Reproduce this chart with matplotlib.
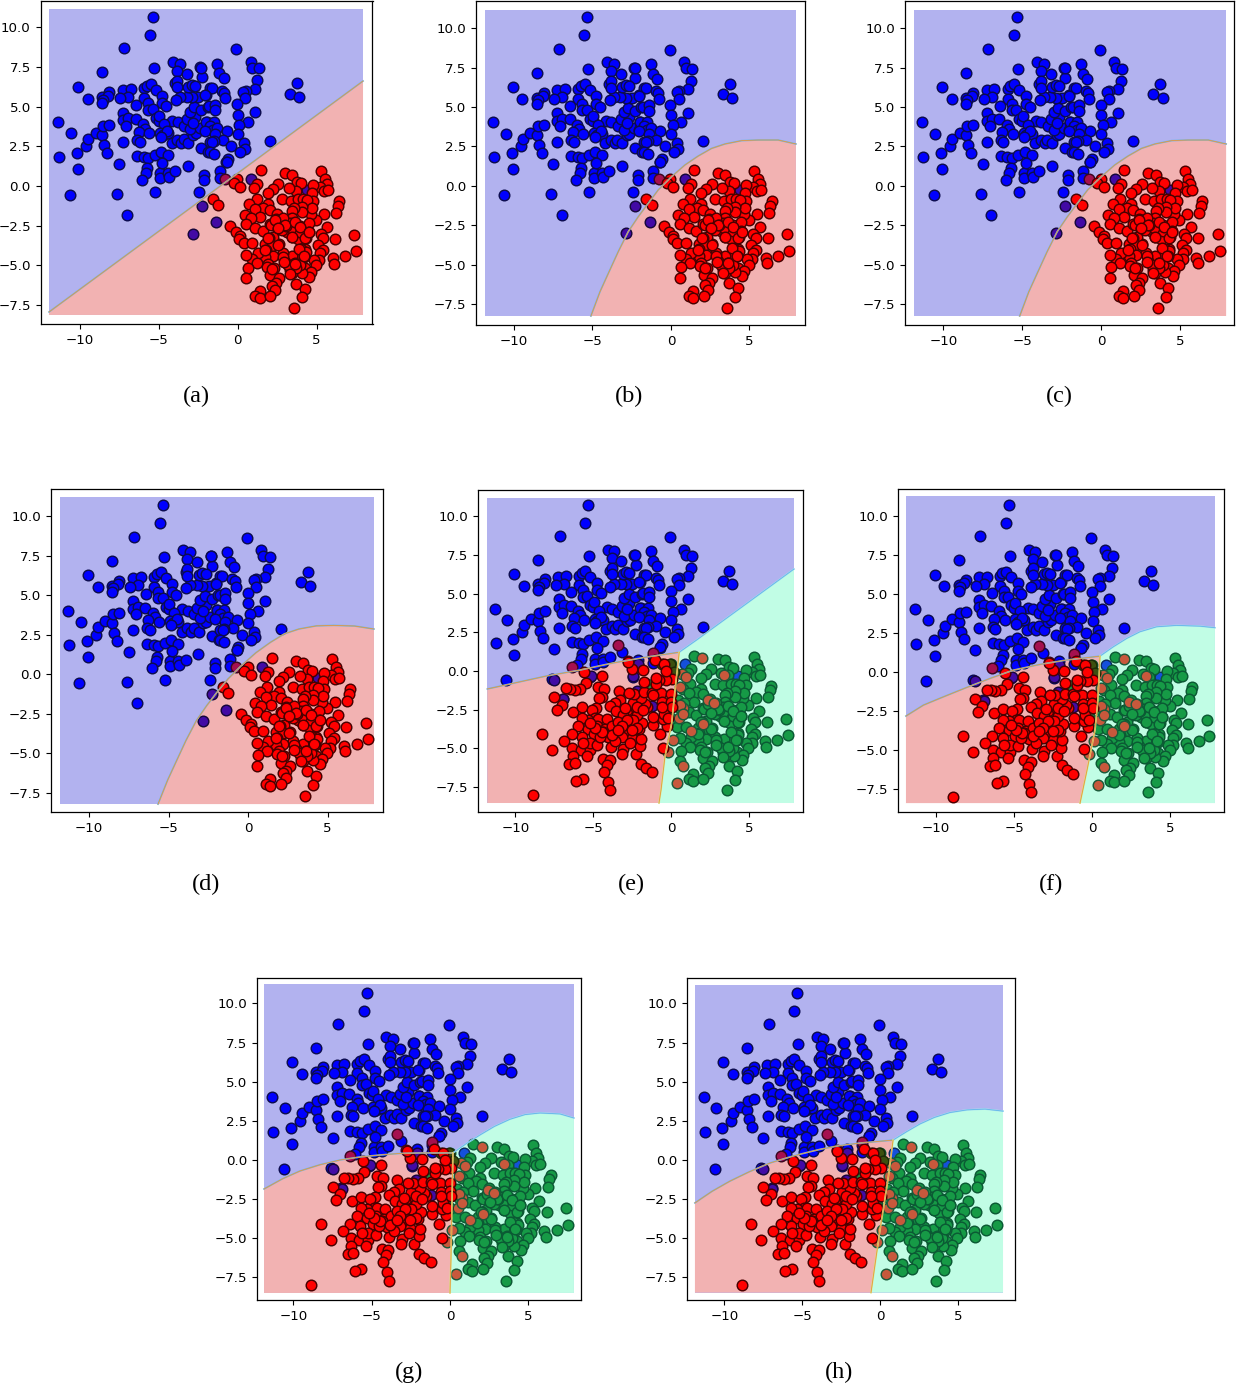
import matplotlib
matplotlib.use("Agg")
import matplotlib.pyplot as plt
import numpy as np

W, H = 1236, 1386

# Scatter clouds, shared by the panels
blue_pts = [
    (-5.33, 10.68), (-5.52, 9.53), (-7.16, 8.69), (-5.26, 7.42), (-8.55, 7.17), (-4.06, 7.84), (-3.64, 7.72),
    (-3.81, 7.26), (-3.2, 7.07), (-2.35, 7.49), (-2.27, 6.86), (-10.07, 6.25), (-8.11, 5.91), (-8.55, 5.6),
    (-8.18, 5.7), (-8.49, 5.43), (-8.55, 5.22), (-9.46, 5.49), (-7.25, 6.08), (-6.76, 6.12), (-6.91, 5.64),
    (-7.42, 5.53), (-5.92, 6.16), (-5.75, 6.33), (-5.5, 6.44), (-5.18, 6.06), (-5.92, 5.53), (-5.64, 5.22),
    (-4.76, 5.68), (-4.76, 5.22), (-4.53, 5.03), (-6.4, 5.09), (-5.64, 4.8), (-5.37, 4.84), (-7.23, 4.63),
    (-7.23, 4.14), (-6.91, 4.27), (-6.45, 4.21), (-5.18, 4.27), (-4.99, 4.12), (-4.95, 4.42), (-4.12, 4.12),
    (-3.79, 4.02), (-4.63, 3.89), (-5.96, 3.89), (-5.85, 3.62), (-6.26, 3.39), (-5.58, 3.32), (-4.91, 3.37),
    (-4.74, 3.22), (-4.38, 3.32), (-4.48, 3.49), (-3.39, 3.81), (-3.18, 4.21), (-2.67, 4.37), (-3.01, 4.69),
    (-2.73, 4.96), (-2.29, 4.77), (-1.89, 5.0), (-2.01, 5.74), (-2.48, 5.59), (-2.88, 5.59), (-3.22, 5.64),
    (-3.64, 5.64), (-3.89, 5.43), (-3.93, 6.48), (-3.81, 6.65), (-3.81, 6.23), (-3.11, 6.27), (-2.88, 6.37),
    (-2.67, 6.31), (-1.74, 6.2), (-11.34, 4.02), (-10.52, 3.32), (-11.28, 1.81), (-10.14, 2.06), (-9.57, 2.5),
    (-9.44, 2.97), (-8.98, 3.37), (-8.55, 3.22), (-8.49, 3.77), (-8.11, 3.87), (-7.04, 3.77), (-8.43, 2.59),
    (-8.24, 2.1), (-7.23, 2.8), (-6.34, 2.9), (-6.19, 2.78), (-6.36, 1.87), (-5.94, 1.81), (-5.64, 1.75),
    (-5.24, 1.98), (-4.82, 2.17), (-4.4, 1.93), (-4.86, 3.11), (-4.17, 2.69), (-3.81, 2.9), (-3.58, 2.69),
    (-3.41, 2.94), (-3.11, 2.69), (-2.8, 3.22), (-2.65, 3.32), (-3.01, 3.57), (-2.37, 3.64), (-2.01, 3.53),
    (-1.95, 4.06), (-2.8, 4.0), (-2.29, 2.38), (-1.85, 2.17), (-1.8, 3.79), (-1.74, 2.8),
    (-0.07, 8.62), (-1.29, 7.72), (0.82, 7.84), (0.94, 7.47), (1.36, 7.42), (-2.31, 7.47), (-1.15, 7.11),
    (-0.87, 6.79), (1.26, 6.67), (1.09, 6.14), (0.52, 6.01), (0.37, 5.95), (0.5, 5.53), (-1.61, 6.2),
    (-0.98, 6.01), (-0.83, 5.89), (-0.77, 5.53), (-2.03, 5.72), (-0.03, 5.15), (-1.78, 5.03), (-1.42, 5.11),
    (-1.42, 4.77), (0.03, 4.5), (1.09, 4.65), (0.65, 4.02), (0.1, 3.83), (-1.97, 4.06), (-1.5, 4.04),
    (-1.74, 3.79), (-1.55, 3.55), (-1.27, 3.64), (-2.05, 3.49), (-1.42, 3.28), (-0.68, 3.45), (0.03, 3.26),
    (-0.94, 2.9), (-1.48, 2.84), (-1.59, 2.78), (-0.39, 2.5), (0.39, 2.69), (0.46, 2.36), (0.18, 2.17),
    (-1.74, 2.17), (-1.48, 2.04), (-0.6, 1.72), (-0.7, 1.51), (2.06, 2.82), (3.75, 6.48), (3.33, 5.83),
    (3.92, 5.59), (-10.07, 1.05), (-7.5, 1.39), (-5.71, 1.11), (-5.81, 0.8), (-6.04, 0.36), (-4.88, 0.8),
    (-4.88, 0.48), (-4.4, 0.8), (-4.34, 0.59), (-3.93, 0.92), (-3.13, 1.24), (-2.1, 0.69), (-2.1, 0.36),
    (-1.13, 0.95), (-1.13, 0.53), (-0.69, 1.53), (-5.2, -0.36), (-2.42, -0.36), (-10.62, -0.59), (-7.63, -0.53),
    (-6.97, -1.81), (-4.76, 1.47),
]

right_pts = [
    (1.49, 0.99), (3.01, 0.8), (3.47, 0.7), (5.31, 0.93), (5.52, 0.44), (5.65, 0.13), (5.22, -0.06),
    (5.48, -0.31), (5.75, -0.23), (4.8, 0.06), (4.72, -0.46), (4.8, -0.93), (3.75, 0.27), (4.0, 0.21),
    (3.68, -0.29), (3.24, -0.1), (2.59, 0.13), (2.23, -0.21), (1.93, -0.46), (1.26, 0.13), (1.07, -0.1),
    (-0.03, 0.44), (-0.24, 0.17), (0.16, -0.06), (-1.57, -0.84), (-1.23, -1.18), (1.2, -0.84), (0.75, -1.16),
    (2.8, -0.84), (3.37, -0.93), (3.83, -0.84), (4.17, -0.84), (4.38, -0.88), (6.43, -0.95), (6.34, -1.24),
    (6.24, -1.7), (5.46, -1.77), (4.97, -2.17), (4.66, -1.77), (4.72, -1.41), (4.11, -1.3), (4.11, -1.66),
    (3.6, -1.41), (3.47, -1.56), (3.45, -2.0), (1.93, -1.14), (1.64, -1.37), (1.13, -1.45), (2.06, -1.51),
    (1.45, -1.98), (0.44, -1.85), (0.84, -2.04), (0.56, -2.42), (1.13, -2.67), (-0.45, -2.54), (-0.11, -2.92),
    (0.16, -3.15), (0.12, -3.36), (0.39, -3.62), (0.94, -3.62), (1.62, -2.86), (2.06, -2.42), (2.48, -1.79),
    (2.42, -2.08), (2.69, -2.14), (2.14, -2.46), (2.55, -2.73), (3.09, -2.35), (2.95, -2.25), (3.33, -2.35),
    (3.68, -2.42), (3.96, -2.5), (4.49, -2.31), (4.49, -2.88), (3.68, -2.86), (3.16, -2.88), (3.45, -3.2),
    (3.81, -3.36), (4.36, -3.26), (5.69, -2.6), (5.25, -3.05), (5.39, -3.28), (6.17, -3.32), (7.4, -3.07),
    (7.52, -4.12), (6.83, -4.44), (6.03, -4.54), (6.13, -4.9), (5.12, -3.74), (5.39, -4.06), (5.22, -4.25),
    (5.18, -4.65), (4.85, -4.65), (4.97, -4.98), (4.3, -4.0), (4.04, -3.97), (4.32, -4.14), (4.23, -4.46),
    (3.9, -4.39), (3.43, -4.42), (3.66, -4.88), (4.25, -5.2), (4.66, -5.4), (4.55, -5.72), (4.06, -5.47),
    (3.45, -5.51), (3.33, -5.3), (2.99, -4.77), (2.86, -4.25), (2.61, -3.68), (2.27, -3.2), (2.02, -3.3),
    (1.76, -3.66), (2.17, -3.76), (1.81, -4.02), (2.23, -4.4), (1.76, -4.46), (1.28, -4.25), (0.94, -4.63),
    (0.56, -4.35), (1.22, -4.88), (0.65, -5.15), (1.93, -4.9), (1.85, -5.09), (2.29, -5.2), (2.08, -5.64),
    (2.61, -5.8), (0.56, -5.83), (2.42, -6.12), (2.19, -6.29), (2.38, -6.58), (1.39, -6.62), (1.13, -6.96),
    (1.41, -7.07), (2.08, -6.96), (3.73, -6.16), (4.25, -6.48), (4.11, -7.02), (3.6, -7.7),
    (2.9, -2.04), (3.96, -2.88), (3.37, -2.67), (2.82, -2.78), (3.07, -2.5), (3.96, -4.98), (3.71, -5.19),
    (3.22, -4.98), (2.9, -4.46), (2.38, -2.15), (3.01, -2.47), (3.65, -2.26), (3.97, -2.57), (2.55, -2.68),
    (1.95, -3.31), (2.59, -3.74), (3.44, -3.21), (4.29, -3.31), (4.5, -2.89), (3.86, -3.95), (4.18, -4.43),
    (2.91, -4.79), (3.65, -4.9), (3.33, -5.53), (2.16, -5.21), (1.74, -4.05),
]

left_pts = [
    (-5.57, -0.05), (-4.41, -0.33), (-5.48, -0.75), (-4.67, -1.03), (-5.85, -1.18), (-6.19, -1.23), (-6.49, -1.18),
    (-6.75, -1.12), (-7.5, -1.7), (-7.03, -2.19), (-7.31, -2.53), (-6.28, -2.64), (-5.7, -2.34), (-4.31, -1.18),
    (-4.43, -1.65), (-4.61, -1.72), (-3.36, -1.27), (-3.28, -1.87), (-3.6, -2.04), (-3.9, -2.25), (-3.51, -2.6),
    (-2.81, -2.51), (-3.06, -2.83), (-4.82, -2.38), (-5.1, -2.51), (-4.88, -3.05), (-5.31, -3.15), (-4.67, -3.07),
    (-4.13, -3.11), (-5.7, -3.05), (-5.96, -3.56), (-5.31, -3.73), (-4.73, -3.58), (-4.24, -3.76), (-3.77, -3.56),
    (-3.02, -3.45), (-2.78, -3.88), (-3.58, -4.08), (-4.03, -4.29), (-4.93, -4.08), (-5.74, -4.23), (-6.39, -4.08),
    (-6.86, -4.53), (-8.27, -4.08), (-7.63, -5.11), (-6.34, -4.98), (-5.81, -5.11), (-5.23, -5.11), (-5.23, -4.66),
    (-4.73, -4.76), (-3.88, -4.91), (-3.06, -5.06), (-3.13, -5.36), (-6.32, -5.49), (-5.38, -5.49), (-6.54, -6.01),
    (-6.19, -5.94), (-4.37, -5.66), (-3.94, -5.75), (-4.09, -6.07), (-4.28, -6.52), (-5.68, -6.97), (-6.08, -7.12),
    (-4.03, -7.18), (-3.9, -7.7), (-8.89, -8.0), (-2.27, -5.36), (-1.95, -5.98), (-1.63, -6.26), (-1.2, -6.52),
    (-0.53, -4.96), (-0.68, -4.08), (-1.97, -4.87), (-2.53, -4.33), (-1.93, -4.38), (-2.05, -3.76), (-1.88, -3.33),
    (-1.13, -3.48), (-0.28, -3.54), (-0.53, -3.11), (-0.43, -2.77), (-2.25, -2.4), (-1.56, -2.3), (-1.67, -2.13),
    (-2.25, -1.93), (-2.46, -2.04), (-1.93, -1.76), (-2.38, -1.5), (-2.7, -1.44), (-1.71, -1.38), (-1.24, -1.4),
    (-0.62, -1.44), (-0.02, -1.5), (-0.55, -2.02), (-0.02, -1.98), (0.05, -2.3), (0.05, -0.54), (-0.32, -0.58),
    (-0.77, -0.6), (-0.96, -0.86), (-0.96, -0.48), (-1.71, -0.69), (-1.78, 0.04), (-2.53, 0.1), (-2.74, 0.58),
    (-1.0, 0.7), (-0.43, 0.42), (-0.3, 0.02), (-2.2, -2.83), (-3.38, -3.26), (-2.46, -3.15), (-4.35, -3.91),
    (-3.17, -4.23), (-2.63, -4.66), (-3.6, -4.55), (-4.56, -4.23), (-2.85, -3.16), (-3.17, -3.58), (-2.2, -3.69),
    (-2.53, -3.8), (-3.81, -4.12), (-4.46, -3.91), (-4.88, -3.69), (-5.2, -3.37), (-3.38, -3.8), (-5.63, -4.66),
    (-1.13, -1.55), (-2.2, -2.3), (-2.95, -2.4), (-1.78, -2.51), (-1.13, -2.94), (-0.6, -2.3), (-0.17, -3.05),
]

# Points where two classes overlap and the colours mix
purple_two = [(0.88, 0.44), (4.38, -0.25), (-2.26, -1.26), (-1.36, -2.27), (-2.85, -3.0)]
crimson_two = [(-0.77, 0.44)]
purple_three = [(-7.5, -0.58), (-5.14, -0.33), (-6.92, -1.83), (-2.42, -0.35), (-2.1, 0.45), (-1.24, -2.23), (-2.2, -1.27)]
crimson_three = [(-6.39, 0.23), (-3.38, 1.67), (-1.13, 1.18), (-2.78, 0.64)]
brown_three = [
    (2.02, 0.81), (3.43, -0.26), (0.69, -0.22), (0.97, -0.37), (0.58, -1.05), (2.4, -1.89), (2.79, -2.08),
    (0.79, -2.4), (0.54, -3.05), (2.08, -3.43), (1.31, -3.86), (0.15, -4.44), (-0.21, -5.26), (0.79, -6.11),
    (0.36, -7.25), (0.09, -2.25), (0.58, -2.19), (0.79, -2.77),
]
olive_three = [(-0.6, 0.45), (-0.06, 0.43), (0.2, -0.05)]
azure_three = [(0.9, 0.45), (4.33, -0.33)]

# Decision boundaries
line_a = [(-11.93, -7.95), (7.94, 6.62)]
line_b = [(-5.1, -8.23), (-4.52, -6.69), (-3.99, -5.53), (-3.36, -4.16), (-2.72, -2.89), (-2.08, -1.94), (-1.45, -1.1),
          (-0.81, -0.25), (0.04, 0.59), (0.89, 1.33), (1.74, 1.9), (2.59, 2.38), (3.44, 2.66), (4.5, 2.87), (5.56, 2.91),
          (6.83, 2.91), (7.96, 2.66)]
line_c = [(-5.16, -8.23), (-4.58, -6.69), (-4.05, -5.53), (-3.42, -4.16), (-2.78, -2.89), (-2.13, -1.94), (-1.5, -1.1),
          (-0.85, -0.25), (0.02, 0.59), (0.87, 1.33), (1.72, 1.9), (2.57, 2.38), (3.42, 2.66), (4.48, 2.87), (5.54, 2.91),
          (6.81, 2.91), (7.94, 2.66)]
line_d = [(-5.66, -8.23), (-5.05, -6.7), (-4.5, -5.5), (-3.9, -4.2), (-3.25, -2.95), (-2.6, -2.0), (-1.95, -1.15),
          (-1.25, -0.3), (-0.4, 0.55), (0.5, 1.35), (1.4, 2.0), (2.3, 2.55), (3.2, 2.85), (4.3, 3.05), (5.4, 3.08),
          (6.7, 3.04), (7.92, 2.85)]

rb_e = [(-11.81, -1.16), (-8.0, -0.32), (-5.85, 0.06), (-3.72, 0.52), (-1.56, 0.9), (0.53, 1.21)]
bg_e = [(0.53, 1.21), (1.65, 2.0), (7.91, 6.58)]
rg_e = [(0.53, 1.21), (0.26, -1.23), (0.05, -3.35), (-0.39, -5.55), (-0.64, -7.68), (-0.77, -8.52)]

rb_f = [(-11.93, -2.82), (-10.81, -2.12), (-9.53, -1.59), (-8.04, -0.99), (-6.54, -0.41), (-5.05, 0.12), (-3.34, 0.49),
        (-1.63, 0.77), (0.51, 1.02)]
bg_f = [(0.51, 1.02), (1.37, 1.62), (2.22, 2.15), (3.07, 2.58), (4.14, 2.9), (5.42, 2.99), (6.92, 2.94), (7.88, 2.84)]
rg_f = [(0.51, 1.02), (0.45, -0.3), (0.36, -2.0), (0.19, -3.72), (-0.32, -6.28), (-0.77, -8.4)]

rb_g = [(-11.88, -1.85), (-10.7, -1.2), (-9.58, -0.7), (-8.3, -0.3), (-7.03, 0.0), (-5.7, 0.2), (-4.47, 0.32),
        (-3.2, 0.42), (-1.92, 0.45), (0.19, 0.45)]
bg_g = [(0.19, 0.45), (1.05, 1.05), (1.92, 1.6), (2.85, 2.15), (3.83, 2.6), (4.8, 2.9), (5.75, 3.0), (7.03, 2.94), (7.92, 2.68)]
rg_g = [(0.19, 0.45), (0.13, -2.55), (0.06, -6.39), (0.0, -8.49)]

rb_h = [(-11.9, -2.74), (-10.8, -2.0), (-9.65, -1.35), (-8.4, -0.75), (-7.07, -0.19), (-5.5, 0.28), (-3.86, 0.68),
        (-2.6, 0.92), (-1.29, 1.08), (0.84, 1.27)]
bg_h = [(0.84, 1.27), (1.7, 1.8), (2.57, 2.3), (3.5, 2.72), (4.5, 3.03), (5.6, 3.2), (6.75, 3.25), (7.91, 3.12)]
rg_h = [(0.84, 1.27), (0.51, -1.27), (0.0, -4.46), (-0.58, -8.47)]

# Panel boxes in pixels (left, right, top, bottom), axis limits and grid extent
boxes = {
    "a": (40.5, 372.5, 1, 324), "b": (476, 805, 1, 325), "c": (905, 1234, 1, 325), "d": (51, 383, 489, 812),
    "e": (478, 803, 490, 812), "f": (898, 1224, 489, 812), "g": (257, 581, 978, 1300), "h": (687, 1015, 978, 1300),
}
limits = {
    "a": (-12.47, 8.54, -8.71, 11.67), "b": (-12.42, 8.54, -8.8, 11.71), "c": (-12.44, 8.44, -8.8, 11.71),
    "d": (-12.39, 8.49, -8.73, 11.71), "e": (-12.41, 8.49, -9.1, 11.68), "f": (-12.44, 8.46, -8.97, 11.73),
    "g": (-12.33, 8.37, -8.94, 11.62), "h": (-12.41, 8.68, -8.94, 11.62),
}
extents = {
    "a": (-11.93, 7.94, -8.14, 11.17), "b": (-11.85, 7.96, -8.23, 11.15), "c": (-11.87, 7.94, -8.23, 11.15),
    "d": (-11.82, 7.92, -8.23, 11.18), "e": (-11.81, 7.91, -8.52, 11.16), "f": (-11.93, 7.88, -8.4, 11.28),
    "g": (-11.88, 7.92, -8.49, 11.24), "h": (-11.9, 7.91, -8.47, 11.15),
}
caption_pos = {
    "a": (196, 396), "b": (629, 396), "c": (1059, 396), "d": (206, 884),
    "e": (631, 884), "f": (1051, 884), "g": (409, 1372), "h": (839, 1372),
}
two_class = {"a": line_a, "b": line_b, "c": line_c, "d": line_d}
three_class = {
    "e": (rb_e, bg_e, rg_e), "f": (rb_f, bg_f, rg_f),
    "g": (rb_g, bg_g, rg_g), "h": (rb_h, bg_h, rg_h),
}

BG_BLUE, BG_RED, BG_GREEN = "#b2b2ef", "#f2b2b2", "#c1fde5"


def dots(ax, pts, face, edge):
    arr = np.array(pts)
    ax.scatter(arr[:, 0], arr[:, 1], s=58, c=face, edgecolors=edge, linewidths=1.05)


def edge_line(ax, pts, under, over):
    arr = np.array(pts)
    ax.plot(arr[:, 0], arr[:, 1], color=under, lw=1.2)
    ax.plot(arr[:, 0], arr[:, 1], color=over, lw=0.6)


def draw_two(ax, name):
    x0, x1, y0, y1 = extents[name]
    line = two_class[name]
    ax.fill(*zip(*(line + [(x1, y0)] + ([(x0, y0)] if name == "a" else []))), color=BG_RED, lw=0)
    edge_line(ax, line, "#6fb7e8", "#e8963c")
    dots(ax, blue_pts, "#0000ff", "#0c0c50")
    dots(ax, purple_two, "#420aa5", "#16063c")
    dots(ax, crimson_two, "#a5104f", "#3c0620")
    dots(ax, right_pts, "#ff0000", "#4a0000")


def draw_three(ax, name):
    x0, x1, y0, y1 = extents[name]
    rb, bg, rg = three_class[name]
    ax.fill(*zip(*(rb + rg[1:] + [(x0, y0)])), color=BG_RED, lw=0)
    ax.fill(*zip(*(bg + [(x1, y0)] + rg[::-1][:-1])), color=BG_GREEN, lw=0)
    edge_line(ax, rb, "#6fb7e8", "#e8963c")
    edge_line(ax, bg, "#a8e0f0", "#62b4ea")
    edge_line(ax, rg, "#d8e88a", "#e8963c")
    dots(ax, blue_pts, "#0000ff", "#0c0c50")
    dots(ax, azure_three, "#1450dc", "#0c2c60")
    dots(ax, right_pts, "#169a46", "#0b5a34")
    dots(ax, brown_three, "#c8583c", "#1c5a3a")
    dots(ax, olive_three, "#3c500f", "#1c2c08")
    dots(ax, purple_three, "#420aa5", "#16063c")
    dots(ax, crimson_three, "#a5104f", "#3c0620")
    dots(ax, left_pts, "#ff0000", "#4a0000")


fig = plt.figure(figsize=(W / 100, H / 100), dpi=100)

for name, (left, right, top, bottom) in boxes.items():
    ax = fig.add_axes([left / W, 1 - bottom / H, (right - left) / W, (bottom - top) / H])
    x0, x1, y0, y1 = extents[name]
    ax.fill([x0, x1, x1, x0], [y0, y0, y1, y1], color=BG_BLUE, lw=0)
    if name in two_class:
        draw_two(ax, name)
    else:
        draw_three(ax, name)
    xl0, xl1, yl0, yl1 = limits[name]
    ax.set_xlim(xl0, xl1)
    ax.set_ylim(yl0, yl1)
    ax.set_xticks([-10, -5, 0, 5])
    ax.set_yticks([-7.5, -5.0, -2.5, 0.0, 2.5, 5.0, 7.5, 10.0])
    ax.tick_params(labelsize=9.6, length=3.5, width=0.8, pad=3.5)
    for spine in ax.spines.values():
        spine.set_linewidth(0.9)
    cx, cy = caption_pos[name]
    fig.text(cx / W, 1 - cy / H, f"({name})", family="Liberation Serif", fontsize=17.5,
             ha="center", va="center", color="black")

fig.savefig("out.png", dpi=100)
